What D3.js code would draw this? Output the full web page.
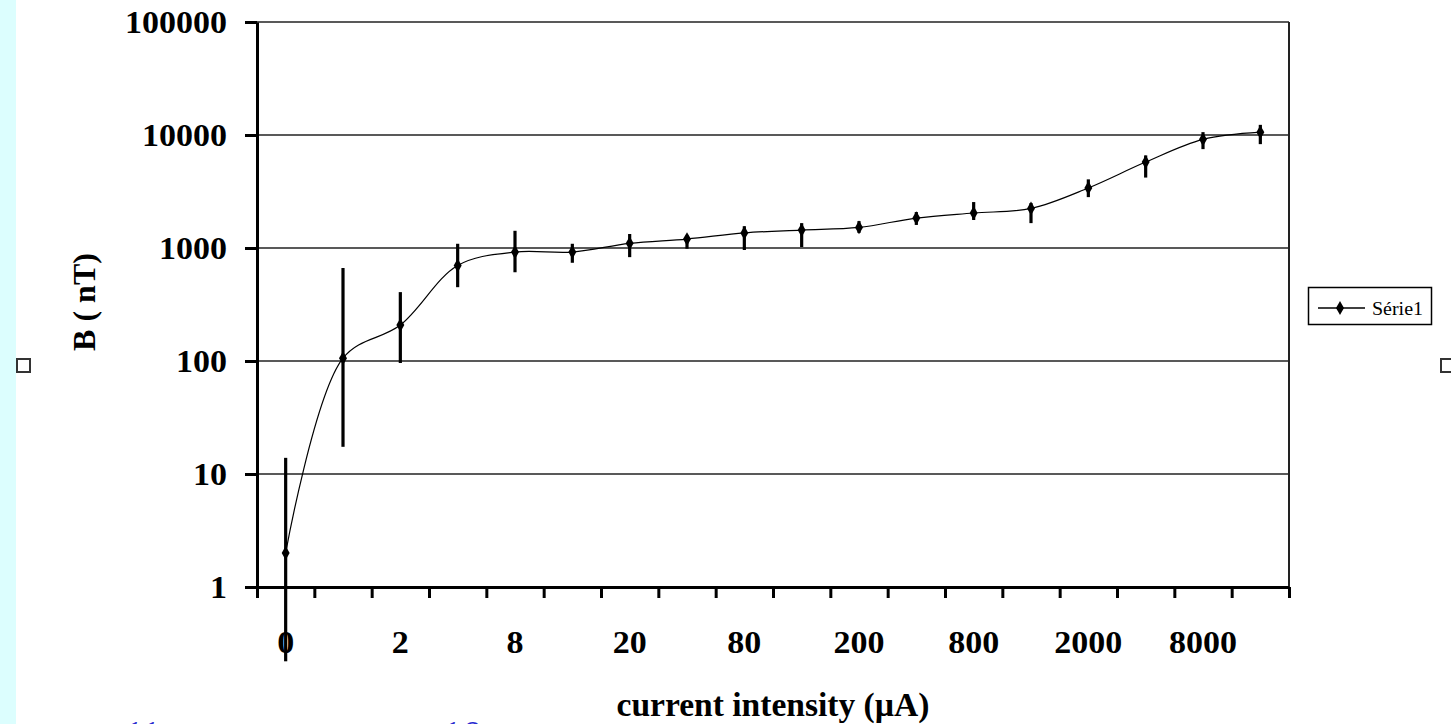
<!DOCTYPE html>
<html><head><meta charset="utf-8">
<script src="https://cdn.jsdelivr.net/npm/d3@7"></script>
<style>
html,body{margin:0;padding:0;background:#fff;overflow:hidden;}
svg{display:block;}
</style></head>
<body>
<script>
// ---- data ----
const categories = ["0","1","2","4","8","10","20","40","80","100","200","400","800","1000","2000","4000","8000","10000"];
const shownLabels = ["0","2","8","20","80","200","800","2000","8000"];
const values  = [2, 106, 208, 700, 920, 920, 1100, 1200, 1360, 1440, 1520, 1840, 2040, 2240, 3400, 5760, 9150, 10600];
const errHigh = [13.9, 665, 407, 1090, 1420, 1090, 1330, 1290, 1560, 1660, 1730, 2080, 2550, 2500, 4050, 6600, 10600, 12300];
const errLow  = [0.22, 17.4, 96, 450, 610, 740, 830, 985, 960, 1020, 1360, 1600, 1770, 1660, 2820, 4200, 7500, 8300];
const yTicks = [1, 10, 100, 1000, 10000, 100000];
const seriesName = "Série1";
const yTitle = "B ( nT)";
const xTitle = "current intensity (µA)";

(function(){
const W = 1451, H = 724;
const svg = d3.select("body").append("svg").attr("width", W).attr("height", H);

// left cyan strip
svg.append("rect").attr("x",0).attr("y",0).attr("width",16).attr("height",H).attr("fill","#dcfefe");

const pL = 257, pR = 1289, pT = 22, pB = 587;
const x = d3.scaleBand().domain(categories).range([pL, pR]).padding(0);
const xc = c => x(c) + x.bandwidth()/2;
const xi = d3.scaleLinear().domain([0, categories.length]).range([pL, pR]);
const y = d3.scaleLog().domain([1, 100000]).range([pB, pT]);

const serif = "'Liberation Serif','Times New Roman',serif";
const digitW = 17;

// gridlines
svg.append("g").selectAll("line").data(yTicks.slice(1)).join("line")
  .attr("x1", pL).attr("x2", pR).attr("y1", d=>y(d)).attr("y2", d=>y(d))
  .attr("stroke","#222").attr("stroke-width",1.6);

// right border
svg.append("line").attr("x1",pR).attr("x2",pR).attr("y1",pT).attr("y2",pB)
  .attr("stroke","#222").attr("stroke-width",2);

// y axis
const yAxis = svg.append("g").attr("transform",`translate(${pL},0)`)
  .call(d3.axisLeft(y).tickValues(yTicks).tickSize(12).tickSizeOuter(0).tickFormat(d3.format("d")));
yAxis.select(".domain").attr("stroke","#000").attr("stroke-width",3);
yAxis.selectAll(".tick line").attr("stroke","#000").attr("stroke-width",3);
yAxis.selectAll(".tick text").attr("x",-30).attr("dy","0.34em")
  .attr("font-family",serif).attr("font-weight","bold").attr("font-size",32).attr("fill","#000")
  .attr("textLength",d=>String(d).length*digitW).attr("lengthAdjust","spacingAndGlyphs");

// x axis ticks (band boundaries)
const xAxisTicks = svg.append("g").attr("transform",`translate(0,${pB})`)
  .call(d3.axisBottom(xi).tickValues(d3.range(0, categories.length+1)).tickSize(11).tickSizeOuter(0).tickFormat(""));
xAxisTicks.select(".domain").attr("stroke","#000").attr("stroke-width",3).attr("d",`M${pL-11},0.5H${pR}`);
xAxisTicks.selectAll(".tick line").attr("stroke","#000").attr("stroke-width",3);

// x labels
const xAxisLabels = svg.append("g").attr("transform",`translate(0,${pB})`)
  .call(d3.axisBottom(x).tickSize(0).tickFormat(d => shownLabels.includes(d) ? d : ""));
xAxisLabels.select(".domain").remove();
xAxisLabels.selectAll(".tick text").attr("y",66).attr("dy",0)
  .attr("font-family",serif).attr("font-weight","bold").attr("font-size",32).attr("fill","#000")
  .filter(d=>shownLabels.includes(d))
  .attr("textLength",d=>String(d).length*digitW).attr("lengthAdjust","spacingAndGlyphs");

// error bars
svg.append("g").selectAll("line").data(categories).join("line")
  .attr("x1",(c)=>xc(c)).attr("x2",(c)=>xc(c))
  .attr("y1",(c,i)=>y(errHigh[i])).attr("y2",(c,i)=>y(errLow[i]))
  .attr("stroke","#000").attr("stroke-width",3.2);

// line
const line = d3.line().x((d,i)=>xc(categories[i])).y(d=>y(d)).curve(d3.curveCatmullRom.alpha(0.5));
svg.append("path").datum(values).attr("d",line).attr("fill","none").attr("stroke","#000").attr("stroke-width",1.2);

// markers
const sym = d3.symbol().type(d3.symbolDiamond).size(55);
svg.append("g").selectAll("path").data(values).join("path")
  .attr("transform",(d,i)=>`translate(${xc(categories[i])},${y(d)})`)
  .attr("d",sym).attr("fill","#000");

// axis titles
svg.append("text").attr("transform","translate(95,302) rotate(-90)").attr("text-anchor","middle")
  .attr("font-family",serif).attr("font-weight","bold").attr("font-size",32).attr("fill","#000").text(yTitle);
svg.append("text").attr("x",773).attr("y",716).attr("text-anchor","middle")
  .attr("font-family",serif).attr("font-weight","bold").attr("font-size",33)
  .attr("textLength",313).attr("lengthAdjust","spacingAndGlyphs").attr("fill","#000").text(xTitle);

// legend
const lg = svg.append("g");
lg.append("rect").attr("x",1308.5).attr("y",287.5).attr("width",123).attr("height",37)
  .attr("fill","#fff").attr("stroke","#000").attr("stroke-width",1.5);
lg.append("line").attr("x1",1318).attr("x2",1365).attr("y1",308).attr("y2",308).attr("stroke","#000").attr("stroke-width",1.5);
lg.append("path").attr("transform","translate(1340,308)").attr("d",d3.symbol().type(d3.symbolDiamond).size(55)).attr("fill","#000");
lg.append("text").attr("x",1372).attr("y",315).attr("font-family",serif).attr("font-size",19)
  .attr("textLength",51).attr("lengthAdjust","spacingAndGlyphs").attr("fill","#000").text(seriesName);

// small square artifacts
svg.append("rect").attr("x",17).attr("y",359).attr("width",13).attr("height",13).attr("fill","none").attr("stroke","#333").attr("stroke-width",2);
svg.append("rect").attr("x",1441).attr("y",359).attr("width",12).attr("height",13).attr("fill","none").attr("stroke","#333").attr("stroke-width",2);

// partially visible blue caption at bottom (cut by the frame edge, as in the reference)
svg.append("text").attr("x",122).attr("y",748).attr("font-family",serif).attr("font-style","italic")
  .attr("font-size",40).attr("fill","#2a2ad0").text("11");
svg.append("text").attr("x",440).attr("y",748).attr("font-family",serif).attr("font-style","italic")
  .attr("font-size",40).attr("fill","#2a2ad0").text("10");
})();
</script>
</body></html>
